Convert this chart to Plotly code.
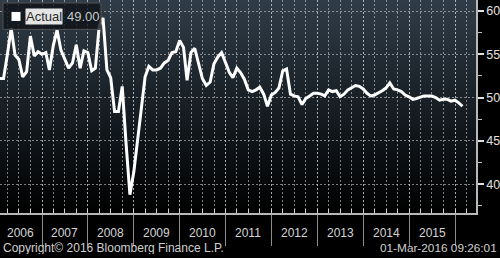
import base64
import pandas as pd
import plotly.graph_objects as go

# ---- data (monthly) ----
start_month = "2006-01"
end_month = "2016-02"
values = [
    # 2006
    52.2, 52.2, 55.0, 58.0, 54.9, 54.4, 52.4, 53.0, 57.1, 54.8, 55.3, 55.0,
    # 2007
    55.2, 53.2, 56.0, 57.8, 55.5, 54.4, 53.4, 54.0, 56.1, 53.4, 55.4, 55.2,
    # 2008
    53.1, 53.4, 58.3, 59.2, 53.2, 52.3, 48.4, 48.4, 51.3, 44.6, 38.8, 41.4,
    # 2009
    45.3, 49.0, 52.4, 53.6, 53.2, 53.2, 53.4, 54.0, 54.3, 55.2, 55.3, 56.6,
    # 2010
    55.8, 52.0, 55.2, 55.7, 54.0, 52.2, 51.4, 51.8, 53.9, 54.7, 55.2, 54.0,
    # 2011
    52.9, 52.3, 53.4, 52.9, 52.1, 50.9, 50.7, 50.9, 51.2, 50.4, 49.0, 50.3,
    # 2012
    50.6, 51.1, 53.1, 53.3, 50.4, 50.2, 50.1, 49.2, 49.9, 50.2, 50.5, 50.5,
    # 2013
    50.4, 50.2, 50.9, 50.7, 50.8, 50.1, 50.4, 50.9, 51.1, 51.4, 51.3, 51.0,
    # 2014
    50.5, 50.2, 50.3, 50.5, 50.8, 51.1, 51.7, 51.0, 50.9, 50.7, 50.3, 50.1,
    # 2015
    49.8, 49.9, 50.1, 50.2, 50.2, 50.2, 50.0, 49.7, 49.8, 49.8, 49.6, 49.7,
    # 2016
    49.4, 49.0,
]
dates = pd.period_range(start_month, end_month, freq="M").to_timestamp(how="end").normalize()

series_name = "Actual"
year_labels = [str(y) for y in range(2006, 2016)]
year_label_pos = ["2006-07-17"] + [f"{y}-07-02" for y in range(2007, 2016)]
year_bounds = [f"{y}-01-01" for y in range(2007, 2017)]
y_ticks = [40, 45, 50, 55, 60]
y_minor = [37.5, 42.5, 47.5, 52.5, 57.5]
x_range = ["2006-01-31", "2016-06-16"]
y_range = [36.68, 61.27]
copyright_text = "Copyright\u00a9 2016 Bloomberg Finance L.P."
stamp_text = "01-Mar-2016 09:26:01"

FONT = "Liberation Sans, Arial, sans-serif"
PW, PH = 476.0, 213.5  # plot area in px
GRID = "rgba(200,205,210,0.6)"

fig = go.Figure()
fig.add_trace(go.Scatter(
    x=dates, y=values, mode="lines", name=series_name,
    line=dict(color="#ffffff", width=3), hoverinfo="x+y", showlegend=False,
))

svg = ("<svg xmlns='http://www.w3.org/2000/svg' width='100' height='100' preserveAspectRatio='none'>"
       "<defs><linearGradient id='g' x1='0' y1='0' x2='0' y2='1'>"
       "<stop offset='0' stop-color='#303c47'/><stop offset='0.5' stop-color='#171e24'/>"
       "<stop offset='1' stop-color='#000000'/></linearGradient></defs>"
       "<rect width='100' height='100' fill='url(#g)'/></svg>")
src = "data:image/svg+xml;base64," + base64.b64encode(svg.encode()).decode()

def px(x):
    return x / PW

def py(y):
    return 1 - y / PH

shapes = [
    dict(type="rect", xref="paper", yref="paper", x0=px(3), x1=px(101), y0=py(29.5), y1=py(3),
         fillcolor="rgba(14,19,24,0.8)", line=dict(color="#505050", width=1), layer="above"),
    dict(type="rect", xref="paper", yref="paper", x0=px(11.5), x1=px(20.5), y0=py(21), y1=py(12),
         fillcolor="#ffffff", line=dict(width=0), layer="above"),
]

annotations = [
    dict(text=series_name, xref="paper", yref="paper", x=px(25), y=py(16.7), xanchor="left",
         yanchor="middle", showarrow=False, bgcolor="#e4e4e4", borderpad=0,
         font=dict(family=FONT, size=13, color="#2a2a2a")),
    dict(text=f"{values[-1]:.2f}", xref="paper", yref="paper", x=px(65), y=py(16.7), xanchor="left",
         yanchor="middle", showarrow=False, font=dict(family=FONT, size=13, color="#c8c8c8")),
    dict(text=copyright_text, xref="paper", yref="paper", x=px(1), y=py(248), xanchor="left",
         yanchor="middle", showarrow=False, height=13,
         font=dict(family=FONT, size=12, color="#d0d0d0")),
    dict(text=stamp_text, xref="paper", yref="paper", x=px(498.5), y=py(248), xanchor="right",
         yanchor="middle", showarrow=False, height=13,
         font=dict(family=FONT, size=11.8, color="#d0d0d0")),
]
for lab, pos in zip(year_labels, year_label_pos):
    annotations.append(dict(text=lab, x=pos, xref="x", yref="paper", y=py(233.5), xanchor="center",
                            yanchor="middle", showarrow=False, height=13,
                            font=dict(family=FONT, size=12, color="#d4d4d4")))

fig.update_layout(
    width=500, height=258,
    margin=dict(l=0, r=24, t=0, b=44.5, pad=0),
    paper_bgcolor="#000000", plot_bgcolor="rgba(0,0,0,0)",
    images=[dict(source=src, xref="paper", yref="paper", x=0, y=1, sizex=1, sizey=1,
                 xanchor="left", yanchor="top", sizing="stretch", layer="below")],
    shapes=shapes, annotations=annotations,
    xaxis=dict(
        range=x_range, tickmode="array", tickvals=year_bounds, showticklabels=False,
        ticks="outside", ticklen=31, tickwidth=1, tickcolor="#8c8c8c",
        showgrid=True, gridcolor=GRID, griddash="2px,2px", gridwidth=1,
        showline=True, linecolor="#b8b8b8", linewidth=1.5, zeroline=False,
        minor=dict(tickmode="linear", tick0="2006-01-01", dtick="M3", ticks="inside",
                   ticklen=4, tickcolor="#d0d0d0", tickwidth=1,
                   showgrid=True, gridcolor=GRID, griddash="2px,2px", gridwidth=1),
    ),
    yaxis=dict(
        range=y_range, side="right", tickmode="array", tickvals=y_ticks,
        ticks="outside", ticklen=6, tickwidth=2, tickcolor="#e0e0e0",
        tickfont=dict(family=FONT, size=12.5, color="#e0e0e0"),
        showgrid=True, gridcolor=GRID, griddash="2px,2px", gridwidth=1,
        showline=True, linecolor="#b8b8b8", linewidth=1.5, zeroline=False,
        minor=dict(tickmode="array", tickvals=y_minor, ticks="outside", ticklen=4,
                   tickcolor="#c0c0c0", tickwidth=1, showgrid=False),
    ),
)

fig.write_html("out.html")
